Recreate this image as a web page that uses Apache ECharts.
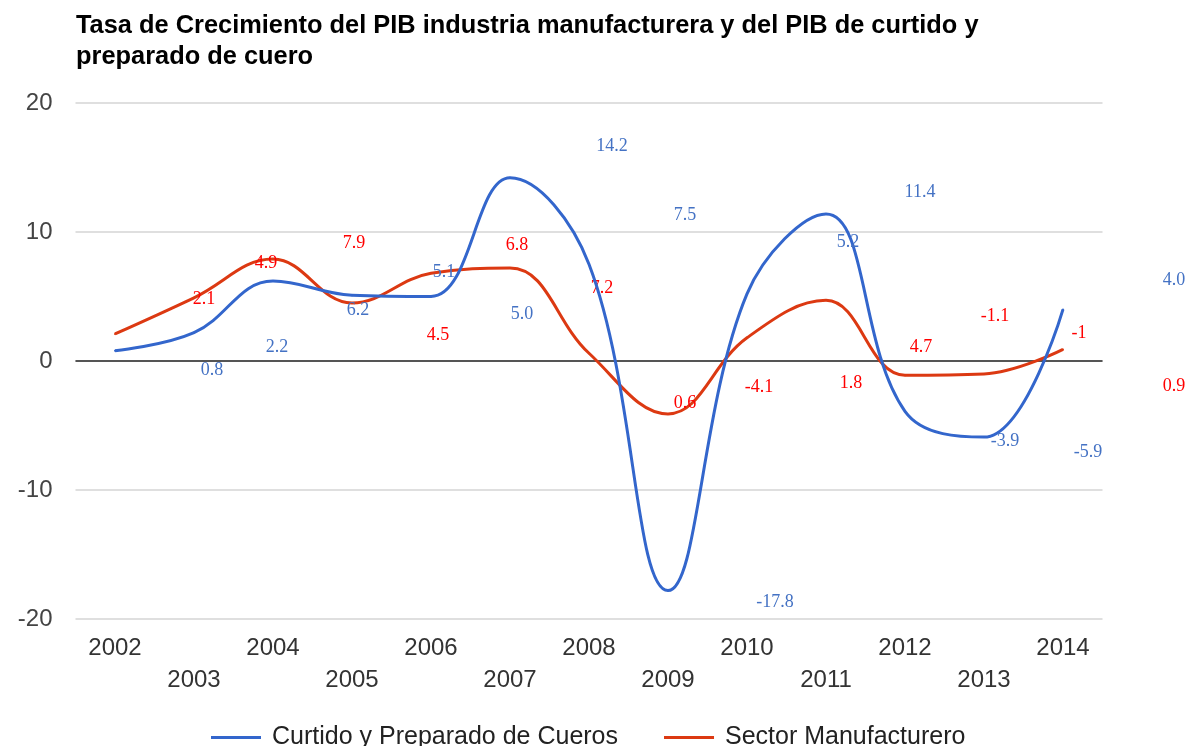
<!DOCTYPE html>
<html>
<head>
<meta charset="utf-8">
<script src="https://cdn.jsdelivr.net/npm/echarts@6/dist/echarts.min.js"></script>
<style>
  html, body { margin: 0; padding: 0; background: #fff; }
  #chart { width: 1189px; height: 746px; }
</style>
</head>
<body>
<div id="chart"></div>
<script>
const years = ['2002', '2003', '2004', '2005', '2006', '2007', '2008', '2009', '2010', '2011', '2012', '2013', '2014']
const curtido = [0.8, 2.2, 6.2, 5.1, 5.0, 14.2, 7.5, -17.8, 5.2, 11.4, -3.9, -5.9, 4.0]
const manufactura = [2.1, 4.9, 7.9, 4.5, 6.8, 7.2, 0.6, -4.1, 1.8, 4.7, -1.1, -1, 0.9]
const yTicks = [-20, -10, 0, 10, 20]

// the source chart draws its value labels displaced from the points
const curtidoLabelShift = [[97, 20], [83, 15], [85, 29], [92, -23], [91, 18], [102, -32], [96, -49], [107, 12], [101, -52], [94, -22], [100, 30], [104, 15], [111, -29]]
const manufacturaLabelShift = [[89, -35], [72, -35], [81, -16], [86, 32], [86, -28], [92, 20], [96, 50], [91, -27], [104, 45], [95, 47], [90, -59], [95, -41], [111, 37]]

const serif = '"Times New Roman", "Liberation Serif", serif'
const sans = 'Arial, "Liberation Sans", sans-serif'

function withLabels(values, shifts, color, fmt) {
  return values.map((v, i) => ({
    value: v,
    label: {
      show: true,
      position: 'inside',
      offset: shifts[i],
      color: color,
      fontFamily: serif,
      fontSize: 18,
      formatter: () => fmt(v),
    },
  }))
}

const chart = echarts.init(document.getElementById('chart'), null, { renderer: 'canvas' })

chart.setOption({
  animation: false,
  backgroundColor: '#fff',
  title: {
    text: 'Tasa de Crecimiento del PIB industria manufacturera y del PIB de curtido y\npreparado de cuero',
    left: 76,
    top: 10,
    padding: 0,
    textStyle: { fontFamily: sans, fontSize: 25.4, fontWeight: 'bold', color: '#000', lineHeight: 31 },
  },
  legend: {
    left: 206,
    top: 720,
    itemGap: 46,
    itemWidth: 50,
    itemHeight: 3,
    icon: 'rect',
    textStyle: { fontFamily: sans, fontSize: 25, color: '#222', padding: [0, 0, 0, 6] },
    data: ['Curtido y Preparado de Cueros', 'Sector Manufacturero'],
  },
  grid: { left: 75.5, right: 86.5, top: 103, bottom: 127 },
  xAxis: {
    type: 'category',
    data: years,
    boundaryGap: true,
    axisLine: { show: false },
    axisTick: { show: false },
    axisLabel: {
      interval: 0,
      margin: 13,
      color: '#333',
      fontFamily: sans,
      fontSize: 24,
      lineHeight: 32,
      formatter: (v, i) => (i % 2 ? '\n' + v : v),
    },
  },
  yAxis: {
    type: 'value',
    min: yTicks[0],
    max: yTicks[yTicks.length - 1],
    interval: 10,
    axisLine: { show: false },
    axisTick: { show: false },
    axisLabel: { margin: 23, color: '#444', fontFamily: sans, fontSize: 24 },
    splitLine: { lineStyle: { color: '#d4d4d4', width: 1.5 } },
  },
  series: [
    {
      name: 'Curtido y Preparado de Cueros',
      type: 'line',
      data: withLabels(curtido, curtidoLabelShift, '#4472c4', (v) => v.toFixed(1)),
      smooth: 0.4,
      symbol: 'circle',
      symbolSize: 2,
      showSymbol: true,
      color: '#3366cc',
      itemStyle: { color: '#3366cc' },
      lineStyle: { color: '#3366cc', width: 3 },
      z: 3,
      markLine: {
        silent: true,
        symbol: 'none',
        label: { show: false },
        lineStyle: { color: '#555', type: 'solid', width: 2 },
        data: [{ yAxis: 0 }],
        z: 1,
      },
    },
    {
      name: 'Sector Manufacturero',
      type: 'line',
      data: withLabels(manufactura, manufacturaLabelShift, '#ff0000', (v) => String(v)),
      smooth: 0.4,
      symbol: 'circle',
      symbolSize: 2,
      showSymbol: true,
      color: '#dc3912',
      itemStyle: { color: '#dc3912' },
      lineStyle: { color: '#dc3912', width: 3 },
      z: 2,
    },
  ],
})
</script>
</body>
</html>
